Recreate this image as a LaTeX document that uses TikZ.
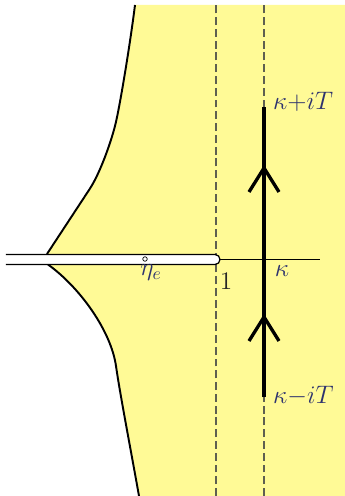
\documentclass[tikz,border=0pt]{standalone}
\usepackage{tikz}

\definecolor{regionyellow}{RGB}{255,250,150}
\definecolor{labelblue}{RGB}{45,50,110}
\definecolor{dashgray}{RGB}{95,95,80}

\begin{document}
\begin{tikzpicture}[scale=1.0,>=stealth,
    bdry/.style={line width=1.1pt},
    cutline/.style={dash pattern=on 4.5pt off 2.2pt,dashgray,line width=0.6pt},
    contour/.style={line width=2.3pt},
    chevron/.style={line width=1.9pt},
    lbl/.style={font=\Large,inner sep=1pt}]
  \useasboundingbox (0,0) rectangle (6.9,9.92);
  % region
  \fill[regionyellow](2.70,9.82) .. controls (2.60,9.02) and (2.39,7.75) .. (2.30,7.40)
    .. controls (2.21,7.05) and (2.00,6.46) .. (1.80,6.15) -- (0.94,4.84)
    -- (0.96,4.63) .. controls (1.60,4.17) and (2.22,3.30) .. (2.32,2.60)
    .. controls (2.40,2.04) and (2.62,0.9) .. (2.78,0)
    -- (6.9,0) -- (6.9,9.82) -- cycle;
  \draw[bdry](2.70,9.82) .. controls (2.60,9.02) and (2.39,7.75) .. (2.30,7.40)
    .. controls (2.21,7.05) and (2.00,6.46) .. (1.80,6.15) -- (0.94,4.84);
  \draw[bdry](0.96,4.63) .. controls (1.60,4.17) and (2.22,3.30) .. (2.32,2.60)
    .. controls (2.40,2.04) and (2.62,0.9) .. (2.78,0);
  % dashed verticals
  \foreach \x in {4.32,5.28}
  {
    \draw[cutline](\x,0)--(\x,9.82);
  }
  % slit and axis
  \coordinate (slitend) at (4.40,4.73);
  \coordinate (axisend) at (6.40,4.73);
  \draw[line width=0.7pt,fill=white](0.12,4.83)--(4.30,4.83) arc(90:-90:0.1)--(0.12,4.63);
  \draw[line width=0.8pt](slitend)--(axisend);
  \draw[line width=0.4pt,fill=white](2.90,4.74) circle(0.045);
  % contour
  \coordinate (kbot) at (5.28,1.98);
  \coordinate (ktop) at (5.28,7.78);
  \draw[contour](kbot)--(ktop);
  \foreach \y in {6.56,3.58}
  {
    \draw[chevron](4.98,\y-0.48)--(5.28,\y)--(5.58,\y-0.48);
  }
  % labels
  \node[lbl,anchor=west,labelblue] (ktoplbl) at (5.42,7.88) {$\kappa{+}iT$};
  \node[lbl,anchor=west,labelblue] (kbotlbl) at (5.42,2.00) {$\kappa{-}iT$};
  \node[lbl,labelblue] (etalbl) at (3.02,4.46) {$\eta_e$};
  \node[lbl,black!85] (onelbl) at (4.52,4.30) {$1$};
  \node[lbl,labelblue] (kappalbl) at (5.64,4.50) {$\kappa$};
\end{tikzpicture}
\end{document}
